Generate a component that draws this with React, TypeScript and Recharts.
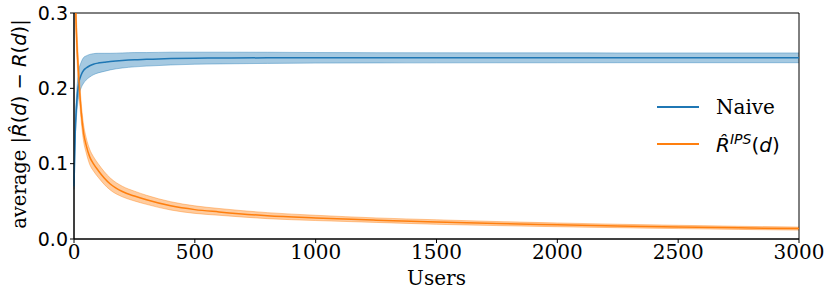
import {
  ComposedChart,
  Area,
  Line,
  XAxis,
  YAxis,
  Legend,
  ReferenceArea,
} from "recharts";

// ---------------------------------------------------------------------------
// Data
// ---------------------------------------------------------------------------

const users = [
  0, 5, 10, 15, 20, 30, 40, 50, 65, 80, 100, 125, 150, 200, 250, 300, 400, 500,
  600, 800, 1000, 1250, 1500, 1750, 2000, 2250, 2500, 2750, 3000,
];

const naiveMean = [
  0.07, 0.14, 0.175, 0.195, 0.207, 0.218, 0.224, 0.227, 0.23, 0.232, 0.2335,
  0.2345, 0.2355, 0.237, 0.238, 0.2385, 0.2395, 0.24, 0.2402, 0.2405, 0.2405,
  0.2405, 0.2405, 0.2405, 0.2405, 0.2405, 0.2405, 0.2405, 0.2405,
];

const naiveSpread = [
  0.004, 0.01, 0.014, 0.016, 0.017, 0.017, 0.017, 0.016, 0.015, 0.014, 0.013,
  0.012, 0.011, 0.01, 0.0095, 0.009, 0.0085, 0.008, 0.0078, 0.0074, 0.007,
  0.0068, 0.0067, 0.0066, 0.0066, 0.0065, 0.0065, 0.0065, 0.0065,
];

const ipsMean = [
  0.5, 0.34, 0.275, 0.24, 0.212, 0.168, 0.14, 0.125, 0.109, 0.1, 0.091, 0.081,
  0.073, 0.063, 0.057, 0.052, 0.044, 0.039, 0.036, 0.031, 0.028, 0.025, 0.0225,
  0.0205, 0.0188, 0.0173, 0.016, 0.0148, 0.0138,
];

const ipsSpread = [
  0.03, 0.025, 0.02, 0.017, 0.015, 0.012, 0.011, 0.01, 0.01, 0.0095, 0.009,
  0.0085, 0.008, 0.007, 0.0065, 0.006, 0.0055, 0.005, 0.0045, 0.004, 0.0035,
  0.003, 0.003, 0.0027, 0.0025, 0.0023, 0.0022, 0.0021, 0.002,
];

const xTicks = [0, 500, 1000, 1500, 2000, 2500, 3000];
const yTicks = [0, 0.1, 0.2, 0.3];

const seriesNames = ["Naive", "IPS"];

const BLUE = "#1f77b4";
const ORANGE = "#ff7f0e";

const data = users.map((u, i) => ({
  users: u,
  naive: naiveMean[i],
  naiveBand: [naiveMean[i] - naiveSpread[i], naiveMean[i] + naiveSpread[i]],
  ips: ipsMean[i],
  ipsBand: [ipsMean[i] - ipsSpread[i], ipsMean[i] + ipsSpread[i]],
}));

const SERIF = "'DejaVu Serif', serif";
const SANS = "'DejaVu Sans', sans-serif";

// ---------------------------------------------------------------------------
// Pieces
// ---------------------------------------------------------------------------

function YLabel(props: { viewBox?: { x: number; y: number; width: number; height: number } }) {
  const vb = props.viewBox ?? { x: 0, y: 13, width: 74, height: 226 };
  const cx = 26;
  const cy = vb.y + vb.height / 2 - 2;
  return (
    <text
      x={cx}
      y={cy}
      transform={`rotate(-90 ${cx} ${cy})`}
      textAnchor="middle"
      fontSize={19.5}
      fill="#000"
    >
      <tspan fontFamily={SERIF}>average </tspan>
      <tspan fontFamily={SANS}>|</tspan>
      <tspan fontFamily={SANS} fontStyle="italic">R{"\u0302"}</tspan>
      <tspan fontFamily={SANS}>(</tspan>
      <tspan fontFamily={SANS} fontStyle="italic">d</tspan>
      <tspan fontFamily={SANS}>) − </tspan>
      <tspan fontFamily={SANS} fontStyle="italic">R</tspan>
      <tspan fontFamily={SANS}>(</tspan>
      <tspan fontFamily={SANS} fontStyle="italic">d</tspan>
      <tspan fontFamily={SANS}>)|</tspan>
    </text>
  );
}

function LegendBox() {
  const colors = [BLUE, ORANGE];
  return (
    <div>
      {seriesNames.map((name, i) => (
        <div
          key={name}
          style={{ display: "flex", alignItems: "center", height: 37 }}
        >
          <span
            style={{
              display: "inline-block",
              width: 42,
              height: 2,
              background: colors[i],
              marginRight: 17,
            }}
          />
          {name === "Naive" ? (
            <span style={{ fontFamily: SERIF, fontSize: 20 }}>Naive</span>
          ) : (
            <span style={{ fontFamily: SANS, fontSize: 20 }}>
              <i>R{"\u0302"}</i>
              <sup style={{ fontSize: 14, fontStyle: "italic" }}>IPS</sup>(
              <i>d</i>)
            </span>
          )}
        </div>
      ))}
    </div>
  );
}

// ---------------------------------------------------------------------------
// Chart
// ---------------------------------------------------------------------------

export default function App() {
  return (
    <div style={{ position: "absolute", left: 0, top: 0, background: "#fff" }}>
      <ComposedChart
        width={831}
        height={293}
        data={data}
        margin={{ top: 13, right: 32, bottom: 0, left: 0 }}
      >
        <XAxis
          dataKey="users"
          type="number"
          domain={[0, 3000]}
          ticks={xTicks}
          height={54}
          stroke="#000"
          tickSize={4}
          tick={{ fontFamily: SERIF, fontSize: 20, fill: "#000" }}
          label={{
            value: "Users",
            position: "insideBottom",
            offset: 8,
            fontFamily: SERIF,
            fontSize: 20,
            fill: "#000",
          }}
        />
        <YAxis
          type="number"
          domain={[0, 0.3]}
          allowDataOverflow
          ticks={yTicks}
          width={74}
          stroke="#000"
          tickSize={4}
          tickFormatter={(v: number) => v.toFixed(1)}
          tick={{ fontFamily: SANS, fontSize: 19, fill: "#000" }}
          label={<YLabel />}
        />
        <Legend
          verticalAlign="middle"
          layout="horizontal"
          wrapperStyle={{ left: 657, top: 88, width: 160 }}
          content={() => <LegendBox />}
        />
        <Area
          dataKey="naiveBand"
          type="monotone"
          fill={BLUE}
          fillOpacity={0.4}
          stroke={BLUE}
          strokeOpacity={0.4}
          strokeWidth={1}
          isAnimationActive={false}
          legendType="none"
        />
        <Area
          dataKey="ipsBand"
          type="monotone"
          fill={ORANGE}
          fillOpacity={0.4}
          stroke={ORANGE}
          strokeOpacity={0.4}
          strokeWidth={1}
          isAnimationActive={false}
          legendType="none"
        />
        <Line
          dataKey="naive"
          type="monotone"
          stroke={BLUE}
          strokeWidth={1.5}
          dot={false}
          isAnimationActive={false}
        />
        <Line
          dataKey="ips"
          type="monotone"
          stroke={ORANGE}
          strokeWidth={1.5}
          dot={false}
          isAnimationActive={false}
        />
        <ReferenceArea
          x1={0}
          x2={3000}
          y1={0}
          y2={0.3}
          fill="none"
          stroke="#000"
          strokeWidth={1}
        />
      </ComposedChart>
    </div>
  );
}
